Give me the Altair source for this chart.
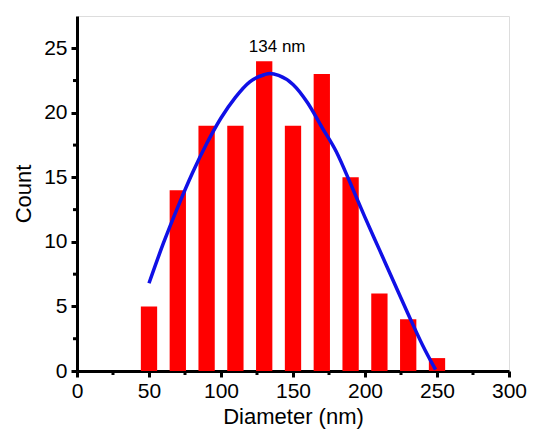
import altair as alt
import pandas as pd

# Histogram data
centers = [50, 70, 90, 110, 130, 150, 170, 190, 210, 230, 250]
counts = [5, 14, 19, 19, 24, 19, 23, 15, 6, 4, 1]

# Fitted curve
fit_x = [50, 60, 70, 80, 90, 100, 110, 120, 130, 134, 140, 150, 160, 170, 180,
         190, 200, 210, 220, 230, 240, 249]
fit_y = [6.8, 9.9, 12.7, 15.3, 17.6, 19.6, 21.2, 22.4, 22.95, 23.05, 22.9, 22.2,
         20.8, 18.9, 17.0, 14.5, 11.9, 9.4, 6.9, 4.4, 2.0, 0.1]

x_ticks = [0, 50, 100, 150, 200, 250, 300]
x_minor = [25, 75, 125, 175, 225, 275]
y_ticks = [0, 5, 10, 15, 20, 25]
y_minor = [2.5, 7.5, 12.5, 17.5, 22.5]

label_text = ["134 nm"]
label_x = [139]
label_y = [24.7]

bars_df = pd.DataFrame({"d": centers, "c": counts})
fit_df = pd.DataFrame({"d": fit_x, "c": fit_y})
lab_df = pd.DataFrame({"d": label_x, "c": label_y, "t": label_text})
xm_df = pd.DataFrame({"d": x_minor})
ym_df = pd.DataFrame({"c": y_minor})

FONT = "Liberation Sans"
W, H = 432, 355

xscale = alt.Scale(domain=[0, 300], nice=False, zero=False, padding=0)
yscale = alt.Scale(domain=[0, 27.5], nice=False)

xaxis = alt.Axis(values=x_ticks, title="Diameter (nm)", grid=False, format="d",
                 labelFontSize=21, titleFontSize=22, labelFont=FONT, titleFont=FONT,
                 labelColor="black", titleColor="black", titleFontWeight="normal",
                 domainColor="black", domainWidth=3, tickColor="black", tickWidth=3,
                 tickSize=6, labelPadding=3, titlePadding=5, labelFlush=False)
yaxis = alt.Axis(values=y_ticks, title="Count", grid=False, format="d",
                 labelFontSize=21, titleFontSize=22, labelFont=FONT, titleFont=FONT,
                 labelColor="black", titleColor="black", titleFontWeight="normal",
                 domainColor="black", domainWidth=3, tickColor="black", tickWidth=3,
                 tickSize=6, labelPadding=4, titlePadding=8, labelFlush=False)

bars = alt.Chart(bars_df).mark_bar(color="#FF0000", size=16.3).encode(
    x=alt.X("d:Q", scale=xscale, axis=xaxis),
    y=alt.Y("c:Q", scale=yscale, axis=yaxis),
)

fit = alt.Chart(fit_df).mark_line(color="#1010E6", strokeWidth=3.5, interpolate="monotone").encode(
    x=alt.X("d:Q", scale=xscale),
    y=alt.Y("c:Q", scale=yscale),
)

label = alt.Chart(lab_df).mark_text(font=FONT, fontSize=17, color="black",
                                    baseline="alphabetic", align="center").encode(
    x=alt.X("d:Q", scale=xscale),
    y=alt.Y("c:Q", scale=yscale),
    text="t:N",
)

xminor = alt.Chart(xm_df).mark_rule(color="black", strokeWidth=3).encode(
    x=alt.X("d:Q", scale=xscale),
    y=alt.value(H + 1),
    y2=alt.value(H + 4),
)

yminor = alt.Chart(ym_df).mark_rule(color="black", strokeWidth=3).encode(
    y=alt.Y("c:Q", scale=yscale),
    x=alt.value(-4),
    x2=alt.value(-1),
)

chart = alt.layer(bars, fit, label, xminor, yminor).properties(
    width=W, height=H,
    autosize=alt.AutoSizeParams(type="none"),
    padding={"left": 69, "top": 8, "right": 18, "bottom": 62},
).configure_view(stroke=None).configure(background="white")

chart.save("out.html", embed_options={"renderer": "svg", "actions": False})
